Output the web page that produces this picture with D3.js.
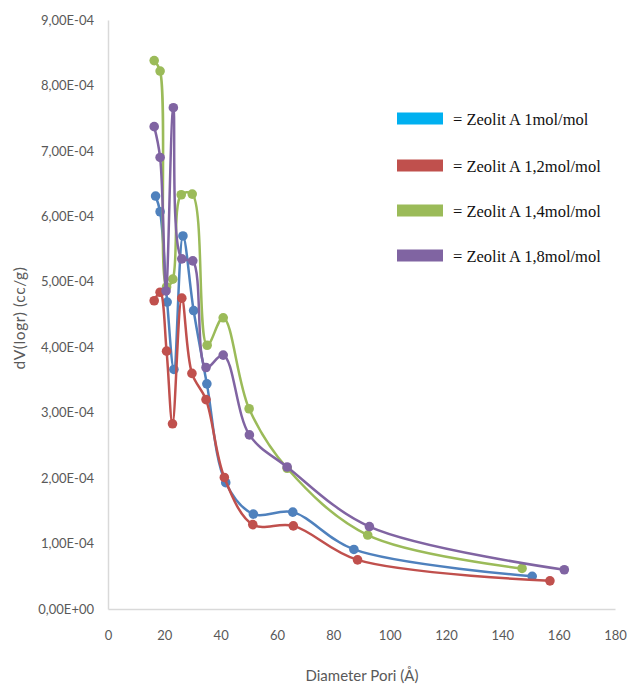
<!DOCTYPE html>
<html>
<head>
<meta charset="utf-8">
<script src="https://cdn.jsdelivr.net/npm/d3@7"></script>
<style>
  html, body { margin: 0; padding: 0; background: #fff; }
  svg { display: block; }
</style>
</head>
<body>
<svg id="chart" width="627" height="686"></svg>
<script>
// Pore diameter (Å) and dV(logr) (cc/g) for each zeolite A sample
const seriesNames = [
  "= Zeolit A 1mol/mol",
  "= Zeolit A 1,2mol/mol",
  "= Zeolit A 1,4mol/mol",
  "= Zeolit A 1,8mol/mol"
];
const xA1  = [16.9, 18.5, 21.0, 23.4, 26.6, 30.4, 35.1, 41.8, 51.6, 65.6, 87.3, 150.6];
const yA1  = [6.31e-4, 6.07e-4, 4.69e-4, 3.66e-4, 5.70e-4, 4.56e-4, 3.44e-4, 1.93e-4, 1.45e-4, 1.48e-4, 0.91e-4, 0.50e-4];
const xA12 = [16.4, 18.5, 20.8, 22.9, 26.2, 29.8, 34.8, 41.3, 51.4, 65.8, 88.6, 156.9];
const yA12 = [4.71e-4, 4.84e-4, 3.94e-4, 2.83e-4, 4.75e-4, 3.60e-4, 3.20e-4, 2.01e-4, 1.29e-4, 1.27e-4, 0.75e-4, 0.43e-4];
const xA14 = [16.4, 18.5, 20.8, 23.0, 26.0, 29.9, 35.2, 40.9, 50.1, 63.6, 92.2, 147.0];
const yA14 = [8.38e-4, 8.22e-4, 4.92e-4, 5.04e-4, 6.33e-4, 6.34e-4, 4.03e-4, 4.45e-4, 3.06e-4, 2.15e-4, 1.13e-4, 0.62e-4];
const xA18 = [16.4, 18.5, 20.6, 23.2, 26.2, 30.1, 34.8, 40.9, 50.2, 63.6, 92.8, 162.0];
const yA18 = [7.37e-4, 6.90e-4, 4.86e-4, 7.66e-4, 5.35e-4, 5.32e-4, 3.69e-4, 3.88e-4, 2.66e-4, 2.17e-4, 1.26e-4, 0.60e-4];

const xTicks = [0, 20, 40, 60, 80, 100, 120, 140, 160, 180];
const yTicks = [0, 1e-4, 2e-4, 3e-4, 4e-4, 5e-4, 6e-4, 7e-4, 8e-4, 9e-4];

const lineColors   = ["#4F81BD", "#C0504D", "#9BBB59", "#8064A2"];
const legendColors = ["#00B0F0", "#C0504D", "#9BBB59", "#8064A2"];

const svg = d3.select("#chart");
const plot = { left: 108, right: 615, top: 20, bottom: 609 };

const x = d3.scaleLinear().domain([0, 180]).range([plot.left, plot.right]);
const y = d3.scaleLinear().domain([0, 9e-4]).range([plot.bottom, plot.top]);

const fmtY = v => {
  const s = v.toExponential(2).replace(".", ",");
  const [m, e] = s.split("e");
  const sign = e[0] === "-" ? "-" : "+";
  const digits = e.replace(/[+-]/, "").padStart(2, "0");
  return m + "E" + sign + digits;
};

// axes (lines only, no tick marks)
const axisFont = "Lato, 'Open Sans', sans-serif";
const gx = svg.append("g").attr("transform", `translate(0,${plot.bottom})`)
  .call(d3.axisBottom(x).tickValues(xTicks).tickSize(0).tickPadding(22).tickFormat(d3.format("d")));
const gy = svg.append("g").attr("transform", `translate(${plot.left},0)`)
  .call(d3.axisLeft(y).tickValues(yTicks).tickSize(0).tickPadding(14).tickFormat(fmtY));
[gx, gy].forEach(g => {
  g.select(".domain").attr("stroke", "#D9D9D9").attr("stroke-width", 1.5);
  g.selectAll("text").attr("fill", "#595959").style("font-family", axisFont).style("font-size", "13px");
});

// axis titles
svg.append("text")
  .attr("x", 362).attr("y", 681)
  .attr("text-anchor", "middle")
  .attr("fill", "#595959").style("font-family", axisFont).style("font-size", "15px")
  .text("Diameter Pori (Å)");
svg.append("text")
  .attr("transform", `translate(25,318) rotate(-90)`)
  .attr("text-anchor", "middle")
  .attr("fill", "#595959").style("font-family", axisFont).style("font-size", "15.5px")
  .style("letter-spacing", "0.6px")
  .text("dV(logr) (cc/g)");

// series
const series = [
  { xs: xA1,  ys: yA1  },
  { xs: xA12, ys: yA12 },
  { xs: xA14, ys: yA14 },
  { xs: xA18, ys: yA18 }
];
const line = d3.line()
  .x(d => x(d[0])).y(d => y(d[1]))
  .curve(d3.curveCatmullRom.alpha(0.5));

series.forEach((s, i) => {
  const pts = s.xs.map((v, j) => [v, s.ys[j]]);
  const g = svg.append("g");
  g.append("path").datum(pts)
    .attr("d", line)
    .attr("fill", "none")
    .attr("stroke", lineColors[i])
    .attr("stroke-width", 2.5)
    .attr("stroke-linejoin", "round");
  g.selectAll("circle").data(pts).enter().append("circle")
    .attr("cx", d => x(d[0])).attr("cy", d => y(d[1]))
    .attr("r", 4.8)
    .attr("fill", lineColors[i]);
});

// legend
const legend = svg.append("g");
const legendY = [118.5, 165.5, 210.5, 255.5];
seriesNames.forEach((name, i) => {
  legend.append("rect")
    .attr("x", 397).attr("y", legendY[i] - 6)
    .attr("width", 46).attr("height", 12)
    .attr("fill", legendColors[i]);
  legend.append("text")
    .attr("x", 453).attr("y", legendY[i] + 6)
    .attr("fill", "#111")
    .style("font-family", "'Liberation Serif', 'Times New Roman', serif")
    .style("font-size", "16.5px")
    .text(name);
});
</script>
</body>
</html>
